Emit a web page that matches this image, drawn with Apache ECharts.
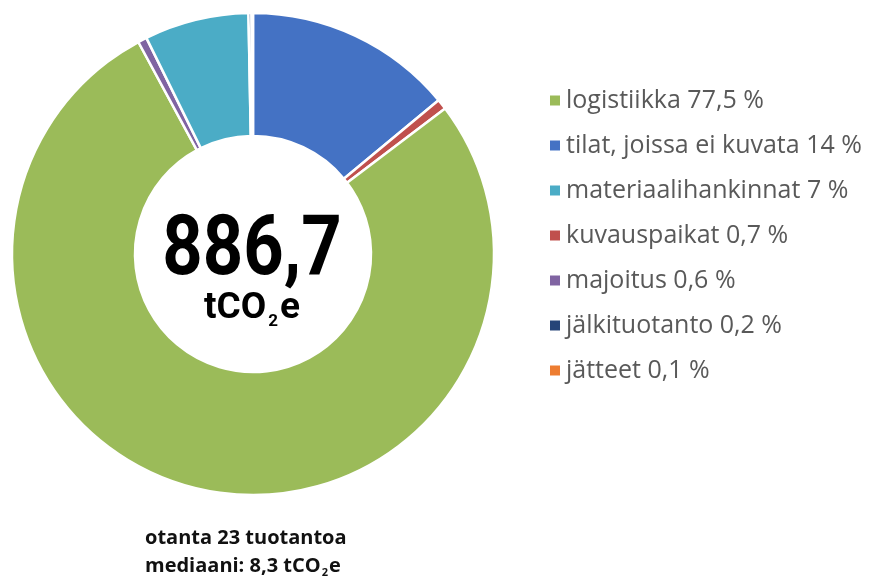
<!DOCTYPE html>
<html>
<head>
<meta charset="utf-8">
<script src="https://cdn.jsdelivr.net/npm/echarts@6/dist/echarts.min.js"></script>
<style>
html,body{margin:0;padding:0;background:#fff;}
#chart{width:872px;height:578px;}
</style>
</head>
<body>
<div id="chart"></div>
<script>
// Slice order (clockwise from the top)
var categories = ['tilat, joissa ei kuvata', 'kuvauspaikat', 'logistiikka', 'majoitus', 'materiaalihankinnat', 'jälkituotanto', 'jätteet'];
var values = [14, 0.7, 77.5, 0.6, 7, 0.2, 0.1];
var colors = ['#4472C4', '#C0504D', '#9BBB59', '#8064A2', '#4BACC6', '#264478', '#ED7D31'];
// Legend order
var legendOrder = ['logistiikka', 'tilat, joissa ei kuvata', 'materiaalihankinnat', 'kuvauspaikat', 'majoitus', 'jälkituotanto', 'jätteet'];
var totalText = '886,7';
var footLine1 = 'otanta 23 tuotantoa';
var footLine2a = 'mediaani: 8,3 tCO';
var footLine2b = 'e';

var chart = echarts.init(document.getElementById('chart'), null, {renderer: 'canvas'});
var data = categories.map(function (c, i) {
  return {name: c, value: values[i], itemStyle: {color: colors[i]}};
});
function fmt(v) { return String(v).replace('.', ','); }

var option = {
  animation: false,
  backgroundColor: '#ffffff',
  legend: {
    data: legendOrder,
    orient: 'vertical',
    left: 543,
    top: 83,
    icon: 'rect',
    itemWidth: 12,
    itemHeight: 12,
    itemGap: 20,
    itemTextGap: 11,
    selectedMode: false,
    textStyle: {
      fontFamily: 'Open Sans',
      fontSize: 25,
      color: '#595959',
      lineHeight: 24
    },
    formatter: function (name) {
      var i = categories.indexOf(name);
      return name + ' ' + fmt(values[i]) + ' %';
    }
  },
  series: [{
    type: 'pie',
    center: [253, 254],
    radius: [118, 241],
    startAngle: 90,
    clockwise: true,
    avoidLabelOverlap: false,
    label: {show: false},
    labelLine: {show: false},
    emphasis: {disabled: true},
    itemStyle: {borderColor: '#ffffff', borderWidth: 2.5},
    data: data
  }],
  graphic: [
    {
      type: 'text',
      x: 252,
      y: 253,
      scaleX: 0.84,
      style: {
        text: totalText,
        fontFamily: 'Roboto',
        fontWeight: 'bold',
        fontSize: 84,
        fill: '#000',
        align: 'center',
        verticalAlign: 'middle'
      }
    },
    {
      type: 'text',
      x: 252,
      y: 309,
      style: {
        text: '{a|tCO}{s|2}{a|e}',
        align: 'center',
        verticalAlign: 'middle',
        rich: {
          a: {fontFamily: 'Roboto', fontWeight: 'bold', fontSize: 37, fill: '#000', lineHeight: 42, verticalAlign: 'middle'},
          s: {fontFamily: 'Roboto', fontWeight: 'bold', fontSize: 17, fill: '#000', lineHeight: 42, padding: [26, 2, 0, 2], verticalAlign: 'middle'}
        }
      }
    },
    {
      type: 'text',
      x: 145,
      y: 538,
      style: {
        text: footLine1,
        fontFamily: 'Open Sans',
        fontWeight: 'bold',
        fontSize: 20,
        fill: '#111',
        align: 'left',
        verticalAlign: 'middle'
      }
    },
    {
      type: 'text',
      x: 145,
      y: 566,
      style: {
        text: '{a|' + footLine2a + '}{s|2}{a|' + footLine2b + '}',
        align: 'left',
        verticalAlign: 'middle',
        rich: {
          a: {fontFamily: 'Open Sans', fontWeight: 'bold', fontSize: 20, fill: '#111', lineHeight: 26, verticalAlign: 'middle'},
          s: {fontFamily: 'Open Sans', fontWeight: 'bold', fontSize: 11, fill: '#111', lineHeight: 26, padding: [14, 1, 0, 1], verticalAlign: 'middle'}
        }
      }
    }
  ]
};
chart.setOption(option);
</script>
</body>
</html>
